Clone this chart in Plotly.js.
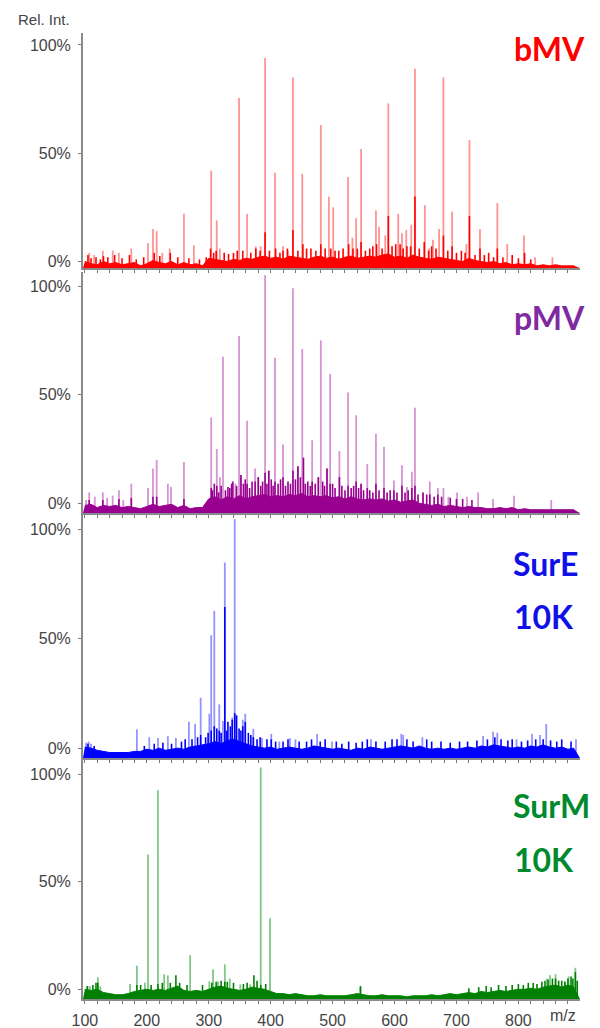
<!DOCTYPE html>
<html>
<head>
<meta charset="utf-8">
<script src="https://cdn.plot.ly/plotly-3.0.1.min.js"></script>
<style>html,body{margin:0;padding:0;background:#fff;}#chart{width:600px;height:1028px;}</style>
</head>
<body>
<div id="chart"></div>
<script>
// ---------- DATA ----------
var sampleNames = ['bMV', 'pMV', 'SurE', 'SurM'];
var sampleSubNames = ['', '', '10K', '10K'];
var yTickVals = [0, 50, 100];
var yTickText = ['0%', '50%', '100%'];
var xTickStep = 100;

// shared m/z grid for the dense baseline signal
var noiseMz = [100,110,120,130,140,150,160,170,180,190,200,210,220,230,240,250,260,270,280,290,
               300,310,320,330,340,350,360,370,380,390,400,410,420,430,440,450,460,470,480,490,
               500,510,520,530,540,550,560,570,580,590,600,610,620,630,640,650,660,670,680,690,
               700,710,720,730,740,750,760,770,780,790,800,810,820,830,840,850,860,870,880,890];

// bMV
var bmvNoise = [0,-1,-1.5,0,-1,-0.5,-1.5,-1,-0.5,-2,-1,0.5,-0.5,-1,0,-1.5,-0.5,-1.5,-1,-2,
                1.5,1,0.5,0,1,0.5,1.5,1,2,2.5,1.5,2,1,2.5,2,1.5,1,2,2.5,1.5,
                2,1,2,2.5,1.5,2,2.5,2,3,3.5,2,2.5,1.5,3,2,1.5,1,2,1.5,1,
                0.5,0,1.5,0.5,0,-0.5,0,-1,-0.5,-1.5,-1,-1.5,-1,-2,-1.5,-2,-1.5,-2,-2,-2];
var bmvDarkMz  = [105,110,118,125,130,137,148,160,172,183,195,212,221,238,250,268,285,296,303,308,312,325,332,340,346,355,368,376,383,391,398,408,415,420,427,436,444,452,458,465,473,481,488,497,504,510,517,526,533,540,546,553,560,565,571,580,590,596,602,609,614,620,626,633,640,648,655,660,667,679,686,693,700,708,714,721,730,738,745,752,760,766,775,790,800,810,820];
var bmvDarkInt = [3,1.5,2,1,2.5,2,3,1.5,3,1,2,4,2.5,4,2,1.5,1,2,6,4,5,4,3.5,4,5,5,4,6,5,13.5,5,6,4,5,6,14.5,5,8,6,6,5,8,6,6,5,5,6,8,6,6,9,5,6,7,8,6,21,7,8,8,6,7,7,30,6,9,5,7,6,12,5,7,4,5,4,21,3,6,3,4,2,6,2,3,1.5,4,1];
var bmvPeakMz  = [107,115,129,145,155,175,202,210,216,225,237,260,276,304,313,318,349,362,376,384,391,407,420,428,436,451,481,494,501,525,532,538,546,570,575,585,590,606,612,619,627,633,649,656,662,672,679,693,716,721,738,766,782,809,827,855];
var bmvPeakInt = [4,3,5,5,4,6,8.5,15,14,4,6,22,7.5,42,19,6,75.5,22,7,7,94,41,7,5,85,40.5,63,30,25,39,11,20,52,23.5,16,12,73,22,13,14.5,17,89,26,6,10,15,85,23,8,56,15,27,8,12,2,2];

// pMV
var pmvNoise = [-1,-0.5,-2,-1,-1.5,-1,-2,-1.5,-2,-2.5,-1.5,-0.5,-1.5,-1,-0.5,-2,-1,-2.5,-2,-2,
                2,3,1.5,3,2,3.5,2,3,3.5,4,3,3.5,3,4,3.5,4.5,3,3.5,3,3.5,
                2.5,3,2,3,2,1.5,2,1.5,2,1,1.5,0.5,1,1.5,0,-0.5,-1,-0.5,-1.5,-1,
                -1.5,-2,-1.5,-2,-2,-2.5,-2.5,-2,-2.5,-2,-3,-2.5,-3,-3,-3,-3,-3,-3,-3,-3];
var pmvDarkMz  = [107,129,155,175,210,216,260,304,306,309,313,316,320,327,331,334,337,339,345,352,356,359,362,366,370,375,380,384,387,391,394,397,401,404,407,412,416,420,424,428,432,436,440,444,448,453,456,460,464,467,472,477,484,487,491,496,500,504,511,515,520,525,530,534,538,542,546,550,556,560,565,570,575,583,588,593,599,604,612,617,622,628,633,638,646,652,657,664,670,676,690,700,710,725];
var pmvDarkInt = [1.5,1.5,2,2.5,3,3,2,7,6,9,8,5,8,6,7.5,7,9,10,8,13,9,11,9,7,10,10,12,8,10,14,9,15,11,8,10,9,11,12,8,10,9,15,11,17,12,21,9,10,8,10,9,12,10,8,16,9,9,7,12,8,6,8,7,8,10,7,9,6,7,6,5,9,6,7,5,6,6,5,8,5,6,7,8,4,5,4,4,3,4,3,2.5,2,2,1.5];
var pmvPeakMz  = [102,107,116,129,136,145,155,162,175,202,210,216,234,239,260,304,313,318,323,343,349,352,362,375,380,391,397,407,420,436,444,451,467,477,481,491,496,511,525,538,546,556,570,583,599,612,620,628,633,646,657,670,679,687,701,717,735,759,793,853];
var pmvPeakInt = [1.5,5,3,5,2.5,3.5,6,1.5,9,7,16,20,9,7.5,19,39.5,25,12,67.5,9,77,13,38,16,12,105,15,67,27,99,17,71,29,12,75,16,59.5,24,51,40.5,9,18,32,26,10.5,17.5,7.5,14.5,44,5,10,7,7,3,5,3,5,2,3.5,1.5];

// SurE 10K
var sureNoise = [0.5,0,-1,-1.5,-2,-2,-2,-2,-1.5,-1.5,-0.5,-1,0,-1,-0.5,0,-0.5,0.5,1,1.5,
                 2,3,2,3.5,4,3,2,1,0.5,0,0.5,-0.5,0,0.5,0,-0.5,0,1,0.5,0,
                 -0.5,0,-0.5,-1,0,-0.5,0.5,0,-0.5,0,0.5,1,0.5,0,1,0,-0.5,0,-0.5,0,
                 -0.5,0,0.5,0,1,0.5,1.5,1,0.5,0,0.5,0,1,0.5,1.5,0.5,0,0.5,-0.5,0];
var sureDarkMz  = [105,115,196,212,226,240,256,262,273,282,287,295,299,304,309,313,317,320,326,329,331,335,338,342,345,349,352,355,359,364,368,372,378,383,394,401,408,420,428,446,458,466,480,488,506,515,526,538,548,556,570,585,596,604,620,630,652,660,675,690,705,718,733,750,762,772,783,790,805,815,828,840,852,862,870,885];
var sureDarkInt = [2,1,1,2,2.5,2,3,4,4,5,6,5,7,8,10,9,8,7,64.5,8,12,10,13,16,15,9,8,10,12,7,6,5,4,5,4,4,3,3,4,3,3,4,3,4,3,2,3,2.5,3,4,3,3,4,4,4,3,4,3,3,2.5,3,3,3.5,4,5,4,3.5,4,3,3.5,4,4,3.5,3,4,3];
var surePeakMz  = [102,106,110,184,204,218,234,247,268,278,287,301,304,309,317,323,326,338,342,355,359,372,386,401,414,431,440,475,499,562,611,614,645,743,759,766,797,822,835,845,893];
var surePeakInt = [2.5,3,2,8.6,5,4.6,5.5,4.6,12,11,23,15.7,51.6,62.7,20,12.4,84.8,14,104.6,13,15.7,8.8,4.6,6.5,3,4.6,4,6.5,3,4,6.5,6,5,5.5,7.5,7,4,6.5,6,11,4];

// SurM 10K
var surmNoise = [0,-0.5,0,-1.5,-2,-2.5,-2.5,-2,-1,-0.5,0,-0.5,0,-0.5,0.5,1.5,-0.5,-1,-0.5,-1,
                 0,1,1.5,0.5,0,-0.5,0,1,0.5,0,-1,-2,-2,-2.5,-2,-2.5,-3,-3,-2.5,-3,
                 -3,-3,-3,-2.5,-2,-2.5,-3,-3,-2.5,-3,-3,-3,-3.5,-3,-3,-3,-2.5,-3,-2.5,-2,
                 -2.5,-2,-1.5,-2,-1,-1.5,-1,-0.5,-1,-0.5,0,0,0.5,0,1,1.5,2,1,2,1];
var surmDarkMz  = [104,113,118,121,184,190,207,218,225,238,247,253,265,290,305,312,320,326,330,340,356,362,373,378,384,392,545,720,736,748,756,768,780,790,800,808,816,824,830,838,843,848,855,860,865,870,875,880,885,888,892,895];
var surmDarkInt = [1.5,2,3,3,2,2,2,2.5,3,3,6.5,3,2,2,3,3.5,4,3.5,3.5,3,2.5,3,6.5,4,2,2.5,1.5,0.5,1,1.5,1,2,1.5,2,2.5,2,3,3,2.5,3.5,4,4.5,5,5,4,4,3.5,5,6,5,8,4];
var surmPeakMz  = [104,108,121,125,173,184,197,202,218,228,234,270,301,307,315,326,334,351,367,384,399,545,846,851,860,875,881,892];
var surmPeakInt = [1.5,1.5,5.6,1.4,2.5,11,3,62.6,92.5,7,6.5,15.8,3.7,9.3,3.7,11.6,5,2.3,2.3,103,33,1,5,6.5,7,3.7,6,10];

// ---------- STYLE ----------
var darkColors  = ['#ff0000', '#990090', '#0000ff', '#008000'];
var lightColors = ['#ff9494', '#d694d1', '#9494ff', '#80c787'];
var labelColors = ['#ff0000', '#7f2aa0', '#1010e8', '#008a2e'];
var xRange = [97, 899.5];
var yRanges = [[-3, 105.5], [-4.5, 106.5], [-4.5, 106.5], [-4.5, 106.5]];
var domains = [[0.7567, 1.0], [0.5031, 0.7526], [0.2495, 0.5010], [0, 0.2474]];
var labelPos = [[0.863, 0.984], [0.863, 0.7055], [0.861, 0.4508], [0.861, 0.2008]];
var subLabelPos = [null, null, [0.863, 0.396], [0.863, 0.1439]];

var panels = [
  {noise: bmvNoise, dMz: bmvDarkMz, dInt: bmvDarkInt, pMz: bmvPeakMz, pInt: bmvPeakInt},
  {noise: pmvNoise, dMz: pmvDarkMz, dInt: pmvDarkInt, pMz: pmvPeakMz, pInt: pmvPeakInt},
  {noise: sureNoise, dMz: sureDarkMz, dInt: sureDarkInt, pMz: surePeakMz, pInt: surePeakInt},
  {noise: surmNoise, dMz: surmDarkMz, dInt: surmDarkInt, pMz: surmPeakMz, pInt: surmPeakInt}
];

function sticks(mz, vals, base) {
  var x = [], y = [];
  for (var i = 0; i < mz.length; i++) {
    x.push(mz[i], mz[i], null);
    y.push(base, vals[i], null);
  }
  return {x: x, y: y};
}

var traces = [];
var layout = {
  width: 600, height: 1028,
  margin: {l: 83, r: 20, t: 33, b: 29},
  paper_bgcolor: '#ffffff', plot_bgcolor: '#ffffff',
  showlegend: false,
  font: {family: 'Liberation Sans, Arial, sans-serif', color: '#444444'},
  annotations: []
};

panels.forEach(function (p, i) {
  var n = i + 1;
  var xa = n === 1 ? 'x' : 'x' + n;
  var ya = n === 1 ? 'y' : 'y' + n;
  var base = yRanges[i][0];
  var light = sticks(p.pMz, p.pInt, base);
  traces.push({x: light.x, y: light.y, xaxis: xa, yaxis: ya, mode: 'lines',
               line: {color: lightColors[i], width: 1.8}, hoverinfo: 'skip', connectgaps: false});
  traces.push({x: [xRange[0], xRange[1]], y: [base, base], xaxis: xa, yaxis: ya, mode: 'lines',
               line: {color: darkColors[i], width: 0}, hoverinfo: 'skip'});
  traces.push({x: noiseMz, y: p.noise, xaxis: xa, yaxis: ya, mode: 'lines', fill: 'tonexty',
               fillcolor: darkColors[i], line: {color: darkColors[i], width: 1}, hoverinfo: 'skip'});
  var dark = sticks(p.dMz, p.dInt, base);
  traces.push({x: dark.x, y: dark.y, xaxis: xa, yaxis: ya, mode: 'lines',
               line: {color: darkColors[i], width: 1.6}, hoverinfo: 'skip', connectgaps: false});

  var xKey = n === 1 ? 'xaxis' : 'xaxis' + n;
  var yKey = n === 1 ? 'yaxis' : 'yaxis' + n;
  layout[xKey] = {
    domain: [0, 1], anchor: ya, range: xRange, showgrid: false, zeroline: false,
    showline: true, linecolor: '#8a8a8a', linewidth: 2,
    ticks: 'outside', ticklen: 3, tickwidth: 1, tickcolor: '#777777',
    tick0: 0, dtick: xTickStep,
    minor: {dtick: 20, ticks: 'outside', ticklen: 3, tickcolor: '#777777', tickwidth: 1},
    showticklabels: n === 4, ticklabelstandoff: 3,
    tickfont: {size: 16, color: '#444444', family: 'Liberation Sans, Arial, sans-serif'}
  };
  if (n > 1) layout[xKey].matches = 'x';
  layout[yKey] = {
    domain: domains[i], anchor: xa, range: yRanges[i], showgrid: false, zeroline: false,
    showline: true, linecolor: '#8a8a8a', linewidth: 2,
    ticks: 'outside', ticklen: 3, tickcolor: '#777777',
    tickmode: 'array', tickvals: yTickVals, ticktext: yTickText, ticklabelstandoff: 4,
    tickfont: {size: 16, color: '#444444', family: 'Liberation Sans, Arial, sans-serif'}
  };
  layout.annotations.push({
    text: '<b>' + sampleNames[i] + '</b>', xref: 'paper', yref: 'paper',
    x: labelPos[i][0], y: labelPos[i][1], xanchor: 'left', yanchor: 'middle', showarrow: false,
    font: {family: 'Lato, Noto Sans, sans-serif', size: 32, color: labelColors[i]}
  });
  if (subLabelPos[i]) {
    layout.annotations.push({
      text: '<b>' + sampleSubNames[i] + '</b>', xref: 'paper', yref: 'paper',
      x: subLabelPos[i][0], y: subLabelPos[i][1], xanchor: 'left', yanchor: 'middle', showarrow: false,
      font: {family: 'Lato, Noto Sans, sans-serif', size: 32, color: labelColors[i]}
    });
  }
});

layout.annotations.push({
  text: 'Rel. Int.', xref: 'paper', yref: 'paper', x: -0.0785, y: 1.0135,
  xanchor: 'center', yanchor: 'middle', showarrow: false,
  font: {size: 15, color: '#444444', family: 'Liberation Sans, Arial, sans-serif'}
});
layout.annotations.push({
  text: 'm/z', xref: 'paper', yref: 'paper', x: 0.966, y: -0.0166,
  xanchor: 'center', yanchor: 'middle', showarrow: false,
  font: {size: 16, color: '#444444', family: 'Liberation Sans, Arial, sans-serif'}
});

Plotly.newPlot('chart', traces, layout, {staticPlot: true, displayModeBar: false});
</script>
</body>
</html>
